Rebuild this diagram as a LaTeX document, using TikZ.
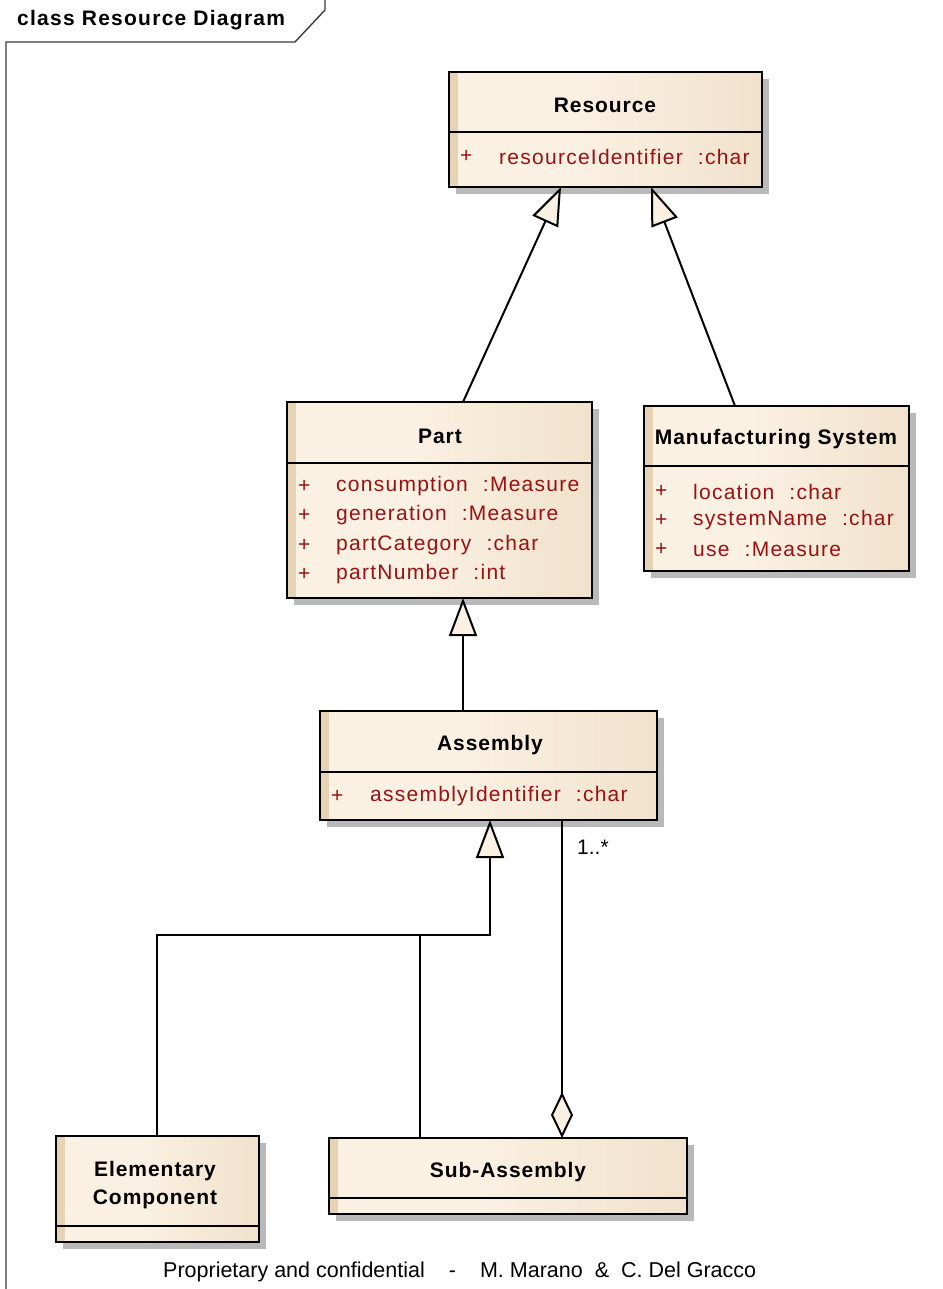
\documentclass[tikz,border=0pt]{standalone}
\usepackage{fontspec}
\setmainfont{Liberation Sans}
\newfontfamily\eatitlefont[LetterSpace=4.5]{Liberation Sans}
\newfontfamily\eaattrfont[LetterSpace=6]{Liberation Sans}
\usetikzlibrary{arrows.meta,calc}

\definecolor{boxlight}{RGB}{251,241,227}
\definecolor{boxtan}{RGB}{232,213,184}
\definecolor{stripcol}{RGB}{230,210,180}
\definecolor{shadowgray}{RGB}{185,185,185}
\definecolor{attrred}{RGB}{153,17,17}
\definecolor{framegray}{RGB}{60,60,60}

\pgfdeclarehorizontalshading{classfill}{100bp}{color(0bp)=(boxlight); color(45bp)=(boxlight); color(100bp)=(boxtan)}

\tikzset{
  classframe/.style={draw, line width=2pt, inner sep=0pt, outer sep=0pt, anchor=north west,
    shading=classfill,
    path picture={\fill[stripcol] (path picture bounding box.north west) rectangle ($(path picture bounding box.south west)+(9,0)$);}},
  title/.style={font=\eatitlefont\bfseries\fontsize{21}{28}\selectfont, inner sep=0pt, align=center},
  attr/.style={font=\eaattrfont\fontsize{21}{24}\selectfont, text=attrred, inner sep=0pt, anchor=west, yshift=-1.5pt},
  plain/.style={font=\fontsize{21}{24}\selectfont, inner sep=0pt},
  conn/.style={line width=2pt},
  gen/.style={conn, -{Triangle[length=38pt,width=28pt,fill=boxlight]}},
  aggr/.style={conn, -{Diamond[length=46pt,width=22pt,fill=boxlight]}},
  divider/.style={line width=2pt}
}

% class box: name, x1, y1, x2, y2
\newcommand\classbox[5]{%
  \fill[shadowgray] (#2+7,#3+7) rectangle (#4+7,#5+7);
  \node[classframe, minimum width=#4-#2, minimum height=#5-#3] (#1) at (#2,#3) {};
}
\newcommand\member[2]{#1\hspace{8pt} :#2}

\begin{document}
\begin{tikzpicture}[x=1pt,y=-1pt]
\useasboundingbox[fill=white] (0,0) rectangle (942,1289);

% diagram frame with its name tab
\draw[framegray, line width=1.4pt] (6,1289) -- (6,42) -- (295,42) -- (325,10) -- (325,0);
\node[inner sep=0pt, font=\eaattrfont\bfseries\fontsize{21}{24}\selectfont, anchor=west] (frametitle) at (17,20) {class Resource Diagram};

% Resource
\classbox{res}{449}{72}{762}{187}
\draw[divider] (res.west |- 0,132) -- (res.east |- 0,132);
\node[title] (res-t) at (605,105) {Resource};
\node[attr] (res-p1) at (460,155) {+};
\node[attr] (res-a1) at (499,155) {\member{resourceIdentifier}{char}};

% Part
\classbox{part}{287}{402}{592}{598}
\draw[divider] (part.west |- 0,463) -- (part.east |- 0,463);
\node[title] (part-t) at (440,436) {Part};
\node[attr] (part-p1) at (298,485) {+};
\node[attr] (part-a1) at (336,485) {\member{consumption}{Measure}};
\node[attr] (part-p2) at (298,514) {+};
\node[attr] (part-a2) at (336,514) {\member{generation}{Measure}};
\node[attr] (part-p3) at (298,544) {+};
\node[attr] (part-a3) at (336,544) {\member{partCategory}{char}};
\node[attr] (part-p4) at (298,573) {+};
\node[attr] (part-a4) at (336,573) {\member{partNumber}{int}};

% Manufacturing System
\classbox{ms}{644}{406}{909}{571}
\draw[divider] (ms.west |- 0,466) -- (ms.east |- 0,466);
\node[title] (ms-t) at (776,439) {Manufacturing System};
\node[attr] (ms-p1) at (655,490) {+};
\node[attr] (ms-a1) at (693,490) {\member{location}{char}};
\node[attr] (ms-p2) at (655,519) {+};
\node[attr] (ms-a2) at (693,519) {\member{systemName}{char}};
\node[attr] (ms-p3) at (655,548) {+};
\node[attr] (ms-a3) at (693,548) {\member{use}{Measure}};

% Assembly
\classbox{asm}{320}{711}{657}{820}
\draw[divider] (asm.west |- 0,772) -- (asm.east |- 0,772);
\node[title] (asm-t) at (490,745) {Assembly};
\node[attr] (asm-p1) at (331,795) {+};
\node[attr] (asm-a1) at (370,795) {\member{assemblyIdentifier}{char}};

% Elementary Component
\classbox{elem}{56}{1136}{259}{1242}
\draw[divider] (elem.west |- 0,1226) -- (elem.east |- 0,1226);
\node[title] (elem-t) at (155,1185) {Elementary\\Component};

% Sub-Assembly
\classbox{sub}{329}{1138}{687}{1214}
\draw[divider] (sub.west |- 0,1198) -- (sub.east |- 0,1198);
\node[title] (sub-t) at (508,1172) {Sub-Assembly};

% generalizations
\draw[gen] (part.north -| 463,0) -- (res.south -| 561,0);
\draw[gen] (ms.north -| 735,0) -- (res.south -| 651,0);
\draw[gen] (asm.north -| 463,0) -- (part.south -| 463,0);
\coordinate (join) at (490,935);
\draw[conn] (sub.north -| 420,0) |- (join);
\draw[gen] (elem.north -| 157,0) |- (join) -- (asm.south -| 490,0);

% aggregation
\draw[aggr] (asm.south -| 562,0) -- (sub.north -| 562,0);
\node[plain, anchor=west] (mult) at (577,847) {1..*};

% footer
\node[plain, font=\fontsize{21.5}{24}\selectfont, anchor=west] (footer) at (163,1272)
  {Proprietary and confidential\hspace{24pt}-\hspace{24pt}M. Marano\hspace{12pt}\&\hspace{12pt}C. Del Gracco};
\end{tikzpicture}
\end{document}
